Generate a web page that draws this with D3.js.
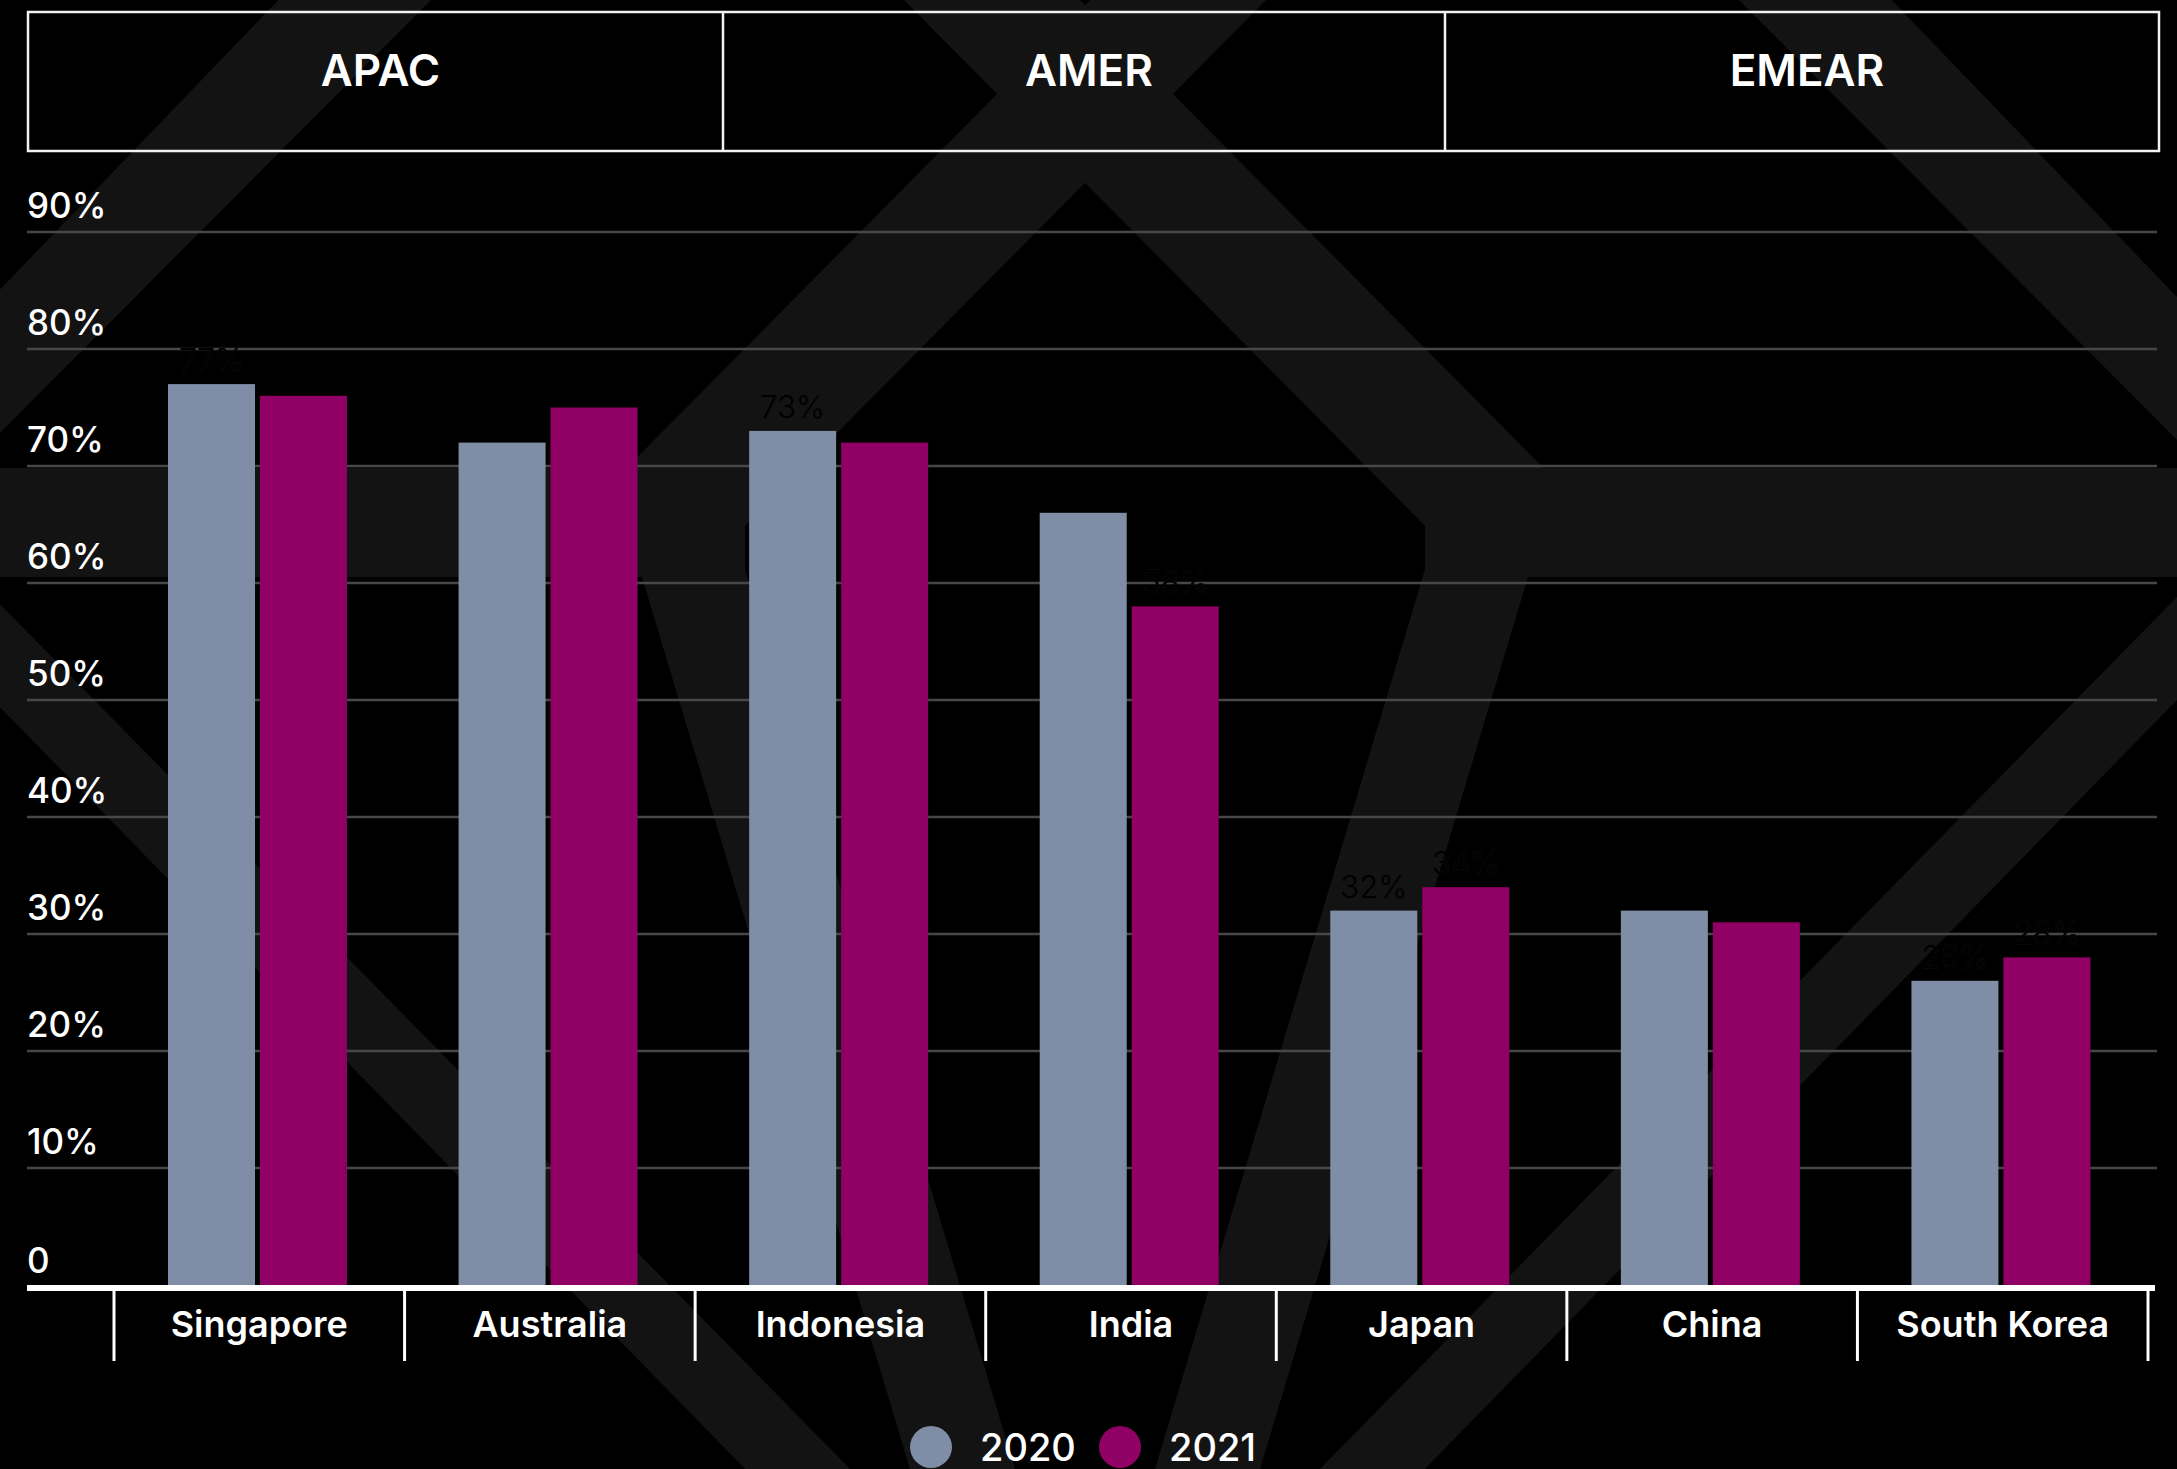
<!DOCTYPE html>
<html>
<head>
<meta charset="utf-8">
<script src="https://cdn.jsdelivr.net/npm/d3@7"></script>
<style>
  html, body { margin: 0; padding: 0; background: #000; }
  svg { display: block; }
</style>
</head>
<body>
<svg id="chart" width="2177" height="1469"></svg>
<script>
// ---- data ----
const categories = ["Singapore", "Australia", "Indonesia", "India", "Japan", "China", "South Korea"];
const seriesNames = ["2020", "2021"];
const values2020 = [77, 72, 73, 66, 32, 32, 26];
const values2021 = [76, 75, 72, 58, 34, 31, 28];
const yTickValues = [0, 10, 20, 30, 40, 50, 60, 70, 80, 90];
const yTickLabels = ["0", "10%", "20%", "30%", "40%", "50%", "60%", "70%", "80%", "90%"];
const regions = ["APAC", "AMER", "EMEAR"];
// bars whose value label is printed
const labelledBars = [
  ["Singapore", "2020"], ["Indonesia", "2020"], ["India", "2021"],
  ["Japan", "2020"], ["Japan", "2021"], ["South Korea", "2020"], ["South Korea", "2021"]
];

// ---- layout / style ----
const FONT = "Inter, 'Open Sans', sans-serif";
const colors = { "2020": "#7f8ea6", "2021": "#910064" };
const headerEdges = [28, 723, 1445, 2159];
const headerTop = 12, headerBottom = 151;
const plotLeft = 27, plotRight = 2157;
const bandLeft = 114, bandRight = 2148;

const svg = d3.select("#chart");

// ---- decorative backdrop: wide dark-grey bands, symmetric about the centre ----
const half = [
  [[288, -10], [441, -10], [-10, 443], [-10, 300]],
  [[-10, 468], [745, 468], [745, 577], [-10, 577]],
  [[1100, -10], [1276, -10], [735, 536], [575, 520]],
  [[735, 536], [1018, 1479], [913, 1479], [642, 577], [640, 540]],
  [[-10, 594], [860, 1479], [755, 1479], [-10, 697]]
];
const mirrorX = 2170;
const shapes = half.concat(half.map(poly => poly.map(([x, yy]) => [mirrorX - x, yy])));
svg.append("g").attr("class", "backdrop")
  .selectAll("path").data(shapes).join("path")
  .attr("d", d => d3.line()(d) + "Z")
  .attr("fill", "#131313");

// ---- scales ----
const y = d3.scaleLinear().domain([0, 90]).range([1285, 232]);
const x0 = d3.scaleBand().domain(categories).range([bandLeft, bandRight]).padding(0);
const x1 = d3.scaleBand().domain(seriesNames).range([54, 233]).paddingInner(0.0543);

// ---- header boxes ----
const header = svg.append("g").attr("class", "regions");
header.append("rect")
  .attr("x", headerEdges[0]).attr("y", headerTop)
  .attr("width", headerEdges[3] - headerEdges[0]).attr("height", headerBottom - headerTop)
  .attr("fill", "none").attr("stroke", "#f2f2f2").attr("stroke-width", 2.5);
header.selectAll("line.div").data(headerEdges.slice(1, 3)).join("line")
  .attr("class", "div")
  .attr("x1", d => d).attr("x2", d => d)
  .attr("y1", headerTop).attr("y2", headerBottom)
  .attr("stroke", "#f2f2f2").attr("stroke-width", 2.5);
header.selectAll("text").data(regions).join("text")
  .attr("x", (d, i) => (headerEdges[i] + headerEdges[i + 1]) / 2 + 5)
  .attr("y", 86)
  .attr("text-anchor", "middle")
  .attr("fill", "#fff")
  .attr("font-family", FONT).attr("font-weight", 600).attr("font-size", 44)
  .text(d => d);

// ---- gridlines + y labels ----
const grid = svg.append("g").attr("class", "grid");
grid.selectAll("line").data(yTickValues.filter(v => v > 0)).join("line")
  .attr("x1", plotLeft).attr("x2", plotRight)
  .attr("y1", d => y(d)).attr("y2", d => y(d))
  .attr("stroke", "#474747").attr("stroke-width", 2.5);

svg.append("g").attr("class", "y-labels")
  .selectAll("text").data(yTickValues).join("text")
  .attr("x", plotLeft)
  .attr("y", d => y(d) - (d === 0 ? 12 : 14))
  .attr("fill", "#fff")
  .attr("font-family", FONT).attr("font-weight", 500).attr("font-size", 35)
  .text((d, i) => yTickLabels[i]);

// ---- bars ----
const rows = categories.map((c, i) => ({
  category: c,
  values: [{ series: "2020", value: values2020[i] }, { series: "2021", value: values2021[i] }]
}));

const groups = svg.append("g").attr("class", "bars")
  .selectAll("g").data(rows).join("g")
  .attr("transform", d => `translate(${x0(d.category)},0)`);

groups.selectAll("rect").data(d => d.values).join("rect")
  .attr("x", d => x1(d.series))
  .attr("y", d => y(d.value))
  .attr("width", x1.bandwidth())
  .attr("height", d => y(0) - y(d.value))
  .attr("fill", d => colors[d.series]);

// value labels (dark, only legible over the grey bands)
const isLabelled = (c, s) => labelledBars.some(([lc, ls]) => lc === c && ls === s);
groups.selectAll("text").data(d => d.values.map(v => ({ ...v, category: d.category }))
    .filter(v => isLabelled(v.category, v.series)))
  .join("text")
  .attr("x", d => x1(d.series) + x1.bandwidth() / 2)
  .attr("y", d => y(d.value) - 13)
  .attr("text-anchor", "middle")
  .attr("font-family", FONT).attr("font-weight", 300).attr("font-size", 31)
  .attr("fill", "#000")
  .attr("stroke", "#121212").attr("stroke-width", 0.8)
  .attr("paint-order", "stroke")
  .text(d => d.value + "%");

// ---- x axis ----
const axis = svg.append("g").attr("class", "x-axis");
axis.append("line")
  .attr("x1", plotLeft).attr("x2", plotRight - 2)
  .attr("y1", 1288).attr("y2", 1288)
  .attr("stroke", "#fff").attr("stroke-width", 6);

const tickXs = categories.map(c => x0(c)).concat([x0(categories[categories.length - 1]) + x0.bandwidth()]);
axis.selectAll("line.tick").data(tickXs).join("line")
  .attr("class", "tick")
  .attr("x1", d => d).attr("x2", d => d)
  .attr("y1", 1288).attr("y2", 1361)
  .attr("stroke", "#fff").attr("stroke-width", 3);

axis.selectAll("text").data(categories).join("text")
  .attr("x", d => x0(d) + x0.bandwidth() / 2)
  .attr("y", 1337)
  .attr("text-anchor", "middle")
  .attr("fill", "#fff")
  .attr("font-family", FONT).attr("font-weight", 600).attr("font-size", 36)
  .text(d => d);

// ---- legend ----
const legend = svg.append("g").attr("class", "legend");
const legendItems = legend.selectAll("g").data(seriesNames).join("g")
  .attr("transform", (d, i) => `translate(${931 + i * 189},1447)`);
legendItems.append("circle").attr("r", 21).attr("fill", d => colors[d]);
legendItems.append("text")
  .attr("x", 49).attr("y", 14)
  .attr("fill", "#fff")
  .attr("font-family", FONT).attr("font-weight", 500).attr("font-size", 38)
  .text(d => d);
</script>
</body>
</html>
